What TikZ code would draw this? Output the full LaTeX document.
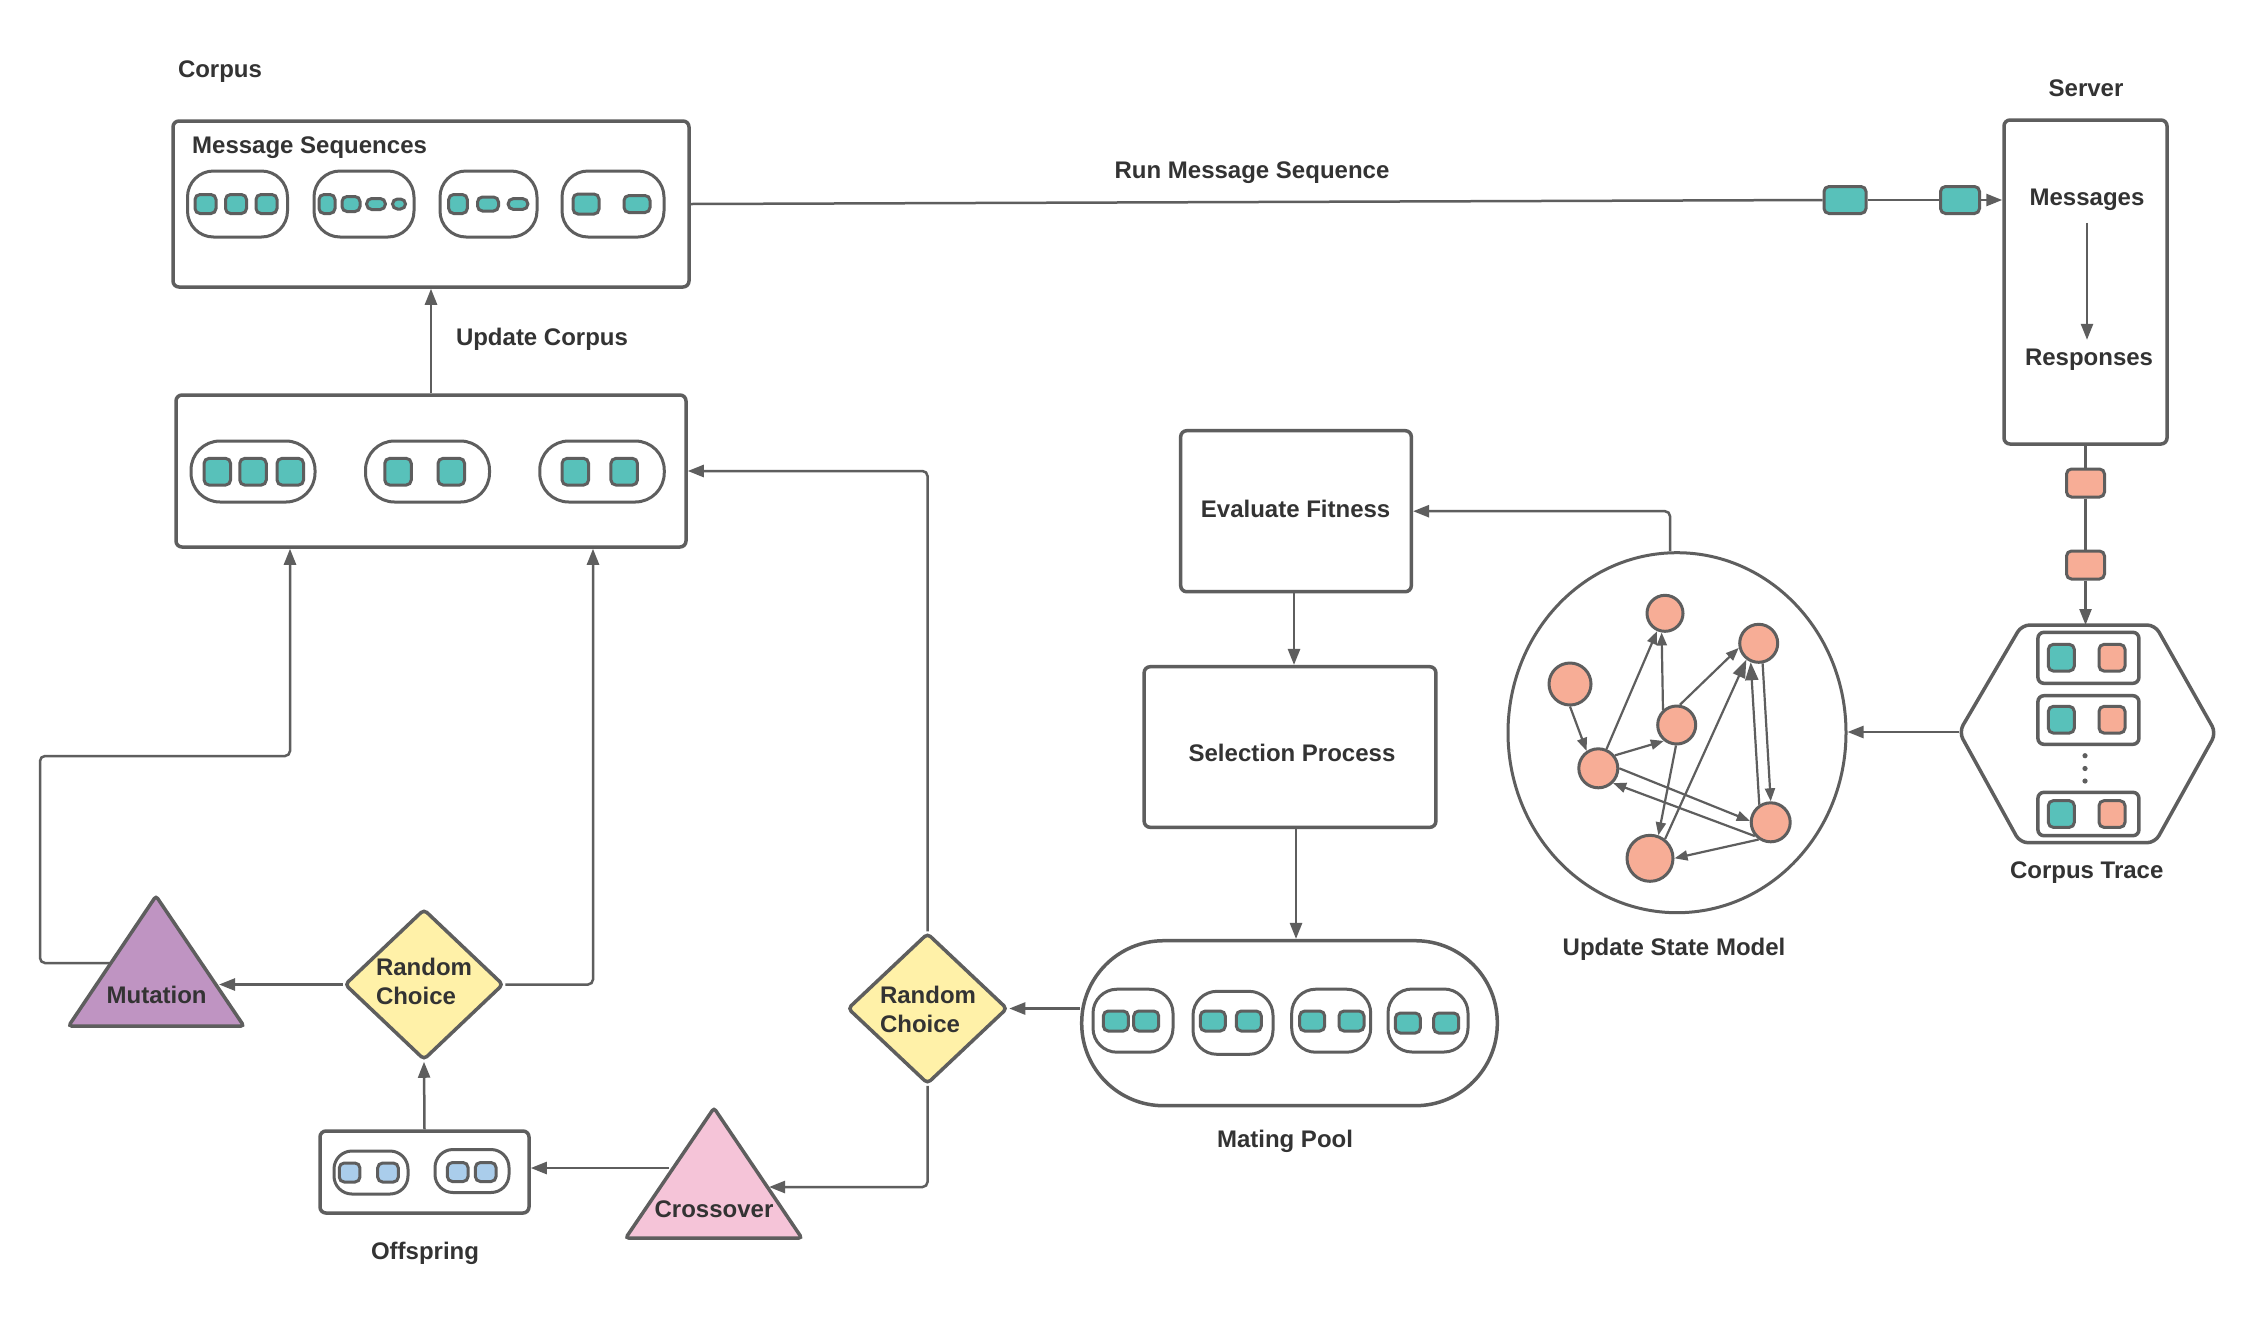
\documentclass[tikz,border=0pt]{standalone}
\usepackage{fontspec}
\setmainfont{Liberation Sans}
\usetikzlibrary{arrows.meta,shapes.geometric,calc}
\definecolor{ln}{HTML}{5E5E5E}
\definecolor{txt}{HTML}{333333}
\definecolor{tealc}{HTML}{58C1BA}
\definecolor{salm}{HTML}{F7AD96}
\definecolor{yel}{HTML}{FFF1A8}
\definecolor{pinkc}{HTML}{F5C4D8}
\definecolor{purp}{HTML}{BF94C2}
\definecolor{blu}{HTML}{AACDEB}
\tikzset{
 lbl/.style={font=\fontsize{24}{29}\selectfont\bfseries, text=txt, inner sep=0pt},
 box/.style={draw=ln, line width=3.5pt, rounded corners=6pt, fill=white, inner sep=0pt},
 pill/.style={draw=ln, line width=3pt, fill=white, inner sep=0pt},
 sq/.style={draw=ln, line width=3pt, rounded corners=5pt, inner sep=0pt},
 conn/.style={draw=ln, line width=2.5pt, rounded corners=5pt},
 arr/.style={conn, -{Triangle[length=16pt,width=12pt]}},
 sarr/.style={draw=ln, line width=2.2pt, -{Triangle[length=13pt,width=10pt]}},
 barr/.style={draw=ln, line width=2.2pt, -{Triangle[length=18pt,width=13pt]}},
 st/.style={circle, draw=ln, line width=3pt, fill=salm, inner sep=0pt},
 dia/.style={diamond, draw=ln, line width=3.5pt, fill=yel, inner sep=0pt, rounded corners=4pt},
 shp/.style={draw=ln, line width=3.5pt, rounded corners=3pt},
}
\newcommand{\msq}[6]{\node[sq,fill=#2,minimum width=#5pt,minimum height=#6pt] (#1) at (#3,#4) {};}
\begin{document}
\begin{tikzpicture}[x=1pt,y=-1pt]
\useasboundingbox[fill=white] (0,0) rectangle (2259,1318);

% ---------- Corpus / Message Sequences ----------
\node[lbl, anchor=base] (corpuslbl) at (220,77.5) {Corpus};
\node[box, minimum width=516pt, minimum height=166pt] (ms) at (431,204) {};
\node[lbl, anchor=base west] (mslbl) at (192,153) {Message Sequences};
\node[pill, rounded corners=26pt, minimum width=100pt, minimum height=66pt] (mp1) at (237.5,204) {};
\node[pill, rounded corners=26pt, minimum width=100pt, minimum height=66pt] (mp2) at (364,204) {};
\node[pill, rounded corners=26pt, minimum width=97pt, minimum height=66pt] (mp3) at (488.5,204) {};
\node[pill, rounded corners=26pt, minimum width=102pt, minimum height=66pt] (mp4) at (613,204) {};
\msq{a1}{tealc}{205.5}{204}{21}{19}
\msq{a2}{tealc}{236}{204}{21}{19}
\msq{a3}{tealc}{266.5}{204}{21}{19}
\msq{b1}{tealc}{327}{204}{16}{19}
\msq{b2q}{tealc}{351}{204}{18}{15}
\msq{b3}{tealc}{376}{204}{18.6}{11}
\msq{b4}{tealc}{399}{204}{13}{10}
\msq{c1}{tealc}{458}{204}{18.6}{19}
\msq{c2}{tealc}{488}{204}{21}{14}
\msq{c3}{tealc}{518}{204}{19.6}{10.7}
\msq{d1}{tealc}{586}{204}{26}{20}
\msq{d2}{tealc}{637}{204}{26}{17}

% ---------- Run message sequence ----------
\node[lbl, anchor=base] (runlbl) at (1252,178.5) {Run Message Sequence};
\msq{t1}{tealc}{1845}{200}{42}{27}
\msq{t2}{tealc}{1960}{200}{39}{27}

% ---------- Server ----------
\node[lbl, anchor=base] (srvlbl) at (2086,96.5) {Server};
\node[box, minimum width=163pt, minimum height=324pt] (srv) at (2085.5,282) {};
\node[lbl, anchor=base] (msgs) at (2087,205.5) {Messages};
\node[lbl, anchor=base] (resp) at (2089,365.5) {Responses};
\msq{s1}{salm}{2085.5}{483}{38}{28}
\msq{s2}{salm}{2085.5}{565}{38}{28}

% ---------- Corpus Trace hexagon ----------
\coordinate (hexW) at (1959,732);
\coordinate (hexN) at (2085.5,625);
\coordinate (hexE) at (2216,733);
\draw[draw=ln, line width=3.5pt, fill=white, rounded corners=8pt] (hexW) -- (2021.7,625) -- (2155,625) -- (hexE) -- (2155,842.7) -- (2020,842.7) -- cycle;
\node[box, minimum width=101pt, minimum height=51pt] (ct1) at (2088.4,657.8) {};
\node[box, minimum width=101pt, minimum height=48.6pt] (ct2) at (2088.4,720) {};
\node[box, minimum width=101pt, minimum height=43.4pt] (ct3) at (2088.4,814) {};
\msq{ct1a}{tealc}{2061.3}{657.7}{26}{26.7}
\msq{ct1b}{salm}{2112}{657.7}{26}{26.7}
\msq{ct2a}{tealc}{2061.3}{719.7}{26}{26.7}
\msq{ct2b}{salm}{2112}{719.7}{26}{26.7}
\msq{ct3a}{tealc}{2061.3}{814}{26}{26.7}
\msq{ct3b}{salm}{2112}{814}{26}{26.7}
\fill[ln] (2085,755.7) circle (2.6pt) (2085,768.5) circle (2.6pt) (2085,781) circle (2.6pt);
\node[lbl, anchor=base] (ctlbl) at (2086.7,878.5) {Corpus Trace};

% ---------- State model ----------
\node[ellipse, draw=ln, line width=3pt, fill=white, minimum width=338pt, minimum height=360pt, inner sep=0pt] (sm) at (1677,732.7) {};
\node[st, minimum size=36pt] (n1) at (1665,613.3) {};
\node[st, minimum size=38pt] (n2) at (1758.7,643.3) {};
\node[st, minimum size=42pt] (n3) at (1570,684) {};
\node[st, minimum size=38pt] (n4) at (1676.7,725) {};
\node[st, minimum size=39pt] (n5) at (1598.3,768.3) {};
\node[st, minimum size=39pt] (n6) at (1770.7,822.3) {};
\node[st, minimum size=46pt] (n7) at (1650,858.3) {};
\draw[sarr] (n3.270) -- (n5.124);
\draw[sarr] (n5.67) -- (n1.246);
\draw[sarr] (n4.132) -- (n1.260);
\draw[sarr] (n5.38) -- (n4.231);
\draw[sarr] (n4.81) -- (n2.193);
\draw[sarr] (n4.268) -- (n7.70);
\draw[barr] (n7.52) -- (n2.233);
\draw[barr] (n6.123) -- (n2.247);
\draw[sarr] (n2.281) -- (n6.90);
\draw[sarr] (n5.0) -- (n6.176);
\draw[sarr] (n6.221) -- (n5.315);
\draw[sarr] (n6.235) -- (n7.0);
\node[lbl, anchor=base] (smlbl) at (1674,955) {Update State Model};

% ---------- Evaluate / Selection ----------
\node[box, minimum width=230.6pt, minimum height=161pt] (ef) at (1296,511.2) {};
\node[lbl, anchor=base] (eflbl) at (1295.6,517) {Evaluate Fitness};
\node[box, minimum width=291.7pt, minimum height=160.6pt] (sp) at (1290,747) {};
\node[lbl, anchor=base] (splbl) at (1292,761) {Selection Process};

% ---------- Mating Pool ----------
\node[pill, line width=3.5pt, rounded corners=82pt, minimum width=415.6pt, minimum height=165pt] (mp) at (1289.5,1023.2) {};
\node[pill, rounded corners=24pt, minimum width=80pt, minimum height=63pt] (q1) at (1133,1020.7) {};
\node[pill, rounded corners=24pt, minimum width=80pt, minimum height=63pt] (q2) at (1233,1022.8) {};
\node[pill, rounded corners=24pt, minimum width=79pt, minimum height=63pt] (q3) at (1331.2,1020.7) {};
\node[pill, rounded corners=24pt, minimum width=80pt, minimum height=63pt] (q4) at (1428,1020.5) {};
\msq{m1a}{tealc}{1115.8}{1021}{25}{20}
\msq{m1b}{tealc}{1146.2}{1021}{25}{20}
\msq{m2a}{tealc}{1212.8}{1021}{25}{20}
\msq{m2b}{tealc}{1248.8}{1021}{25}{20}
\msq{m3a}{tealc}{1312.2}{1021}{25}{20}
\msq{m3b}{tealc}{1351.5}{1021}{25}{20}
\msq{m4a}{tealc}{1407.8}{1023}{25}{20}
\msq{m4b}{tealc}{1446.2}{1023}{25}{20}
\node[lbl, anchor=base] (mplbl) at (1285,1147) {Mating Pool};

% ---------- Random choices ----------
\node[dia, minimum width=160pt, minimum height=151pt] (rc2) at (927.5,1008.5) {};
\node[lbl, align=left] (rc2t) at (928,1009.3) {Random\\Choice};
\node[dia, minimum width=159pt, minimum height=151pt] (rc1) at (424,984.5) {};
\node[lbl, align=left] (rc1t) at (424,981.5) {Random\\Choice};

% ---------- Crossover ----------
\coordinate (crA) at (714,1108);
\coordinate (crBL) at (625.7,1238);
\coordinate (crBR) at (801.8,1238);
\coordinate (crossR) at (769,1187);
\coordinate (crossL) at (669,1168);
\draw[shp, fill=pinkc] (crA) -- (crBR) -- (crBL) -- cycle;
\node[lbl, anchor=base] (crlbl) at (714,1217.5) {Crossover};

% ---------- Offspring ----------
\node[box, minimum width=209pt, minimum height=82pt] (off) at (424.5,1172) {};
\node[pill, rounded corners=18pt, minimum width=74pt, minimum height=43pt] (o1) at (371,1172.5) {};
\node[pill, rounded corners=18pt, minimum width=74pt, minimum height=43pt] (o2) at (472,1171) {};
\msq{o1a}{blu}{349.6}{1172.5}{20.7}{19}
\msq{o1b}{blu}{388}{1172.5}{20.7}{19}
\msq{o2a}{blu}{457.7}{1172}{20.7}{19}
\msq{o2b}{blu}{485.7}{1172}{20.7}{19}
\node[lbl, anchor=base] (offlbl) at (425,1259) {Offspring};

% ---------- Mutation ----------
\coordinate (muA) at (156,896);
\coordinate (muBL) at (68.6,1026);
\coordinate (muBR) at (243.9,1026);
\coordinate (mutR) at (219,984.5);
\coordinate (mutL) at (110,963);
\coordinate (loopc) at (40,756);
\draw[shp, fill=purp] (muA) -- (muBR) -- (muBL) -- cycle;
\node[lbl, anchor=base] (mulbl) at (156.6,1003.5) {Mutation};

% ---------- Updated population box ----------
\node[box, minimum width=510pt, minimum height=152pt] (b2) at (431,471) {};
\node[pill, rounded corners=29pt, minimum width=124pt, minimum height=61pt] (u1) at (253,471.5) {};
\node[pill, rounded corners=29pt, minimum width=124pt, minimum height=61pt] (u2) at (427.5,471.5) {};
\node[pill, rounded corners=29pt, minimum width=124.5pt, minimum height=61pt] (u3) at (602,471.5) {};
\msq{u1a}{tealc}{217.3}{471.7}{26.5}{26.7}
\msq{u1b}{tealc}{253}{471.7}{26.5}{26.7}
\msq{u1c}{tealc}{290.3}{471.7}{26.5}{26.7}
\msq{u2a}{tealc}{398}{471.7}{26.5}{26.7}
\msq{u2b}{tealc}{451.3}{471.7}{26.5}{26.7}
\msq{u3a}{tealc}{575.3}{471.7}{26.5}{26.7}
\msq{u3b}{tealc}{624.2}{471.7}{26.5}{26.7}
\node[lbl, anchor=base] (uclbl) at (542,345.5) {Update Corpus};

% ---------- Connectors ----------
\draw[conn] (ms.east) -- (t1.west);
\draw[conn] (t1.east) -- (t2.west);
\draw[arr] (t2.east) -- (srv.west |- t2.east);
\draw[arr, shorten <=12pt, shorten >=9pt] (msgs.south) -- (msgs.south |- resp.north);
\draw[conn] (srv.south) -- (s1.north);
\draw[conn] (s1.south) -- (s2.north);
\draw[arr] (s2.south) -- (hexN);
\draw[arr] (hexW) -- (hexW -| sm.east);
\draw[arr] ([xshift=-7pt]sm.north) |- (ef.east);
\draw[arr] ([xshift=-2pt]ef.south) -- ([xshift=-2pt]ef.south |- sp.north);
\draw[arr] ([xshift=6pt]sp.south) -- ([xshift=6pt]sp.south |- mp.north);
\draw[arr] (rc2.east -| mp.west) -- (rc2.east);
\draw[arr] (rc2.north) |- (b2.east);
\draw[arr] (rc2.south) |- (crossR);
\draw[arr] (crossL) -- (crossL -| off.east);
\draw[arr] (off.north) -- (rc1.south);
\draw[arr] (rc1.west) -- (mutR);
\draw[arr] (rc1.east) -| ($(b2.south)+(162,0)$);
\draw[arr] (mutL) -| (loopc) -| ($(b2.south)+(-141,0)$);
\draw[arr] (b2.north) -- (ms.south);
\end{tikzpicture}
\end{document}
